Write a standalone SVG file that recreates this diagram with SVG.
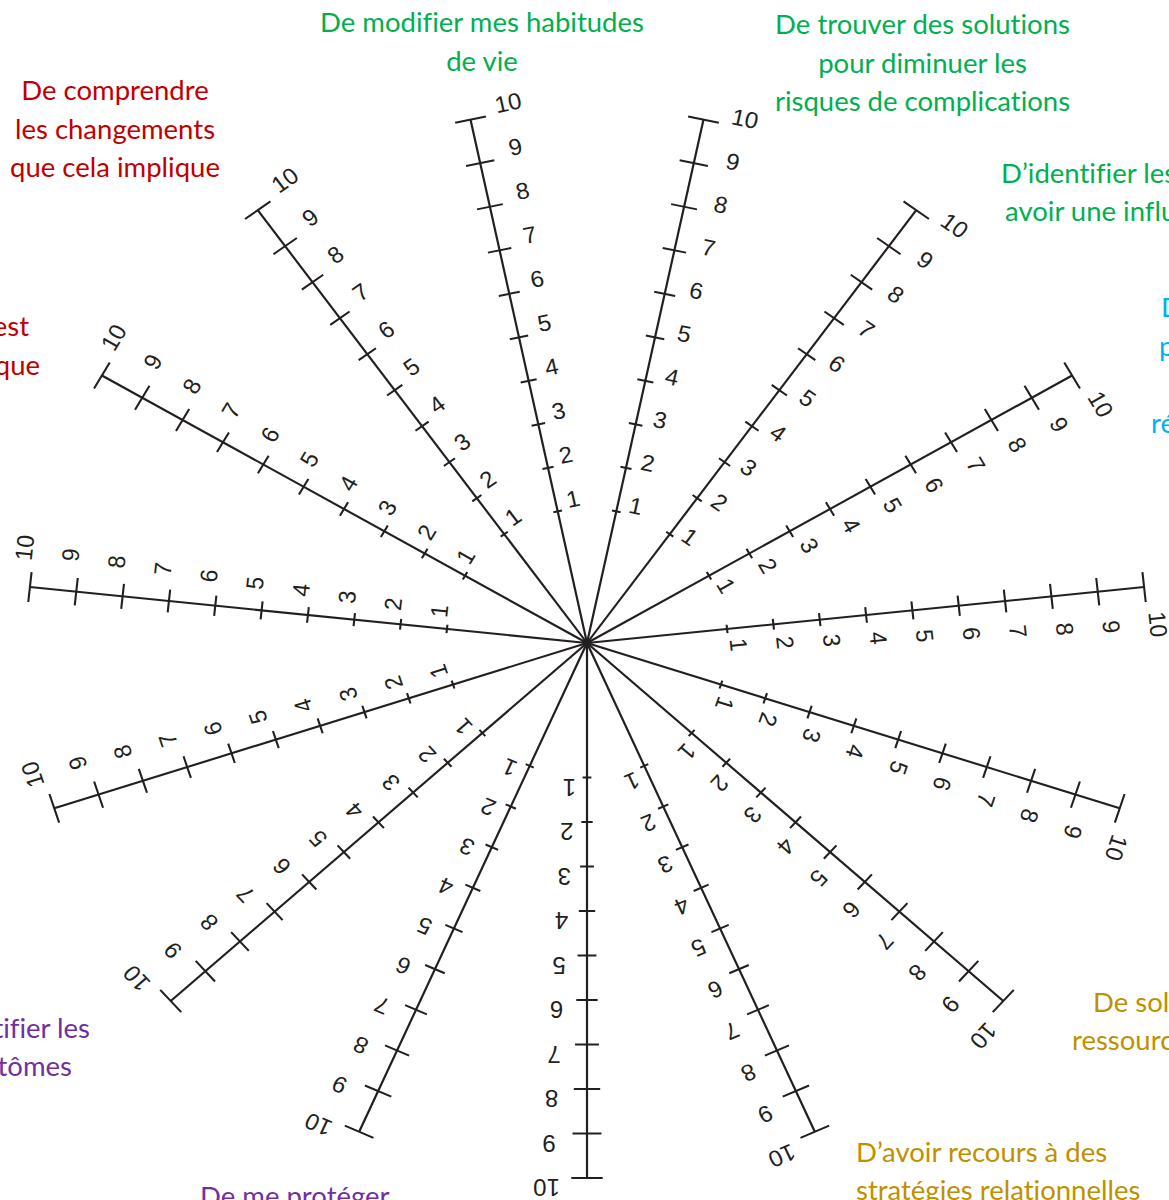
<svg xmlns="http://www.w3.org/2000/svg" xmlns:xlink="http://www.w3.org/1999/xlink" width="1169" height="1200" viewBox="0 0 1169 1200">
<style>
.ax{stroke:#231f20;stroke-width:2.1;fill:none}
.tk{stroke:#231f20;stroke-width:2;fill:none}
.n{font-family:"Liberation Sans",Arial,sans-serif;font-size:23px;fill:#231f20;text-anchor:middle;dominant-baseline:central}
.t{font-family:Lato,"Open Sans",sans-serif;font-size:27.5px;font-variant-ligatures:none}
.c{text-anchor:middle}
.e{text-anchor:end}
.green{fill:#00b050}
.red{fill:#c00000}
.blue{fill:#00b0f0}
.gold{fill:#bf9000}
.purple{fill:#7030a0}
</style>
<defs>
<g id="scale">
<line class="ax" x1="0" y1="0" x2="0" y2="-535"/>
<path class="tk" d="M-4.2,-134.5H4.2M-5.4,-179H5.4M-6.6,-223.5H6.6M-7.8,-268H7.8M-9,-312.5H9M-10.2,-357H10.2M-11.4,-401.5H11.4M-12.6,-446H12.6M-13.8,-490.5H13.8M-15,-535H15"/>
<text class="n" x="17" y="-143.5">1</text>
<text class="n" x="19.4" y="-188">2</text>
<text class="n" x="21.8" y="-232.5">3</text>
<text class="n" x="24.2" y="-277">4</text>
<text class="n" x="26.6" y="-321.5">5</text>
<text class="n" x="29" y="-366">6</text>
<text class="n" x="31.4" y="-410.5">7</text>
<text class="n" x="33.8" y="-455">8</text>
<text class="n" x="36.2" y="-499.5">9</text>
<text class="n" x="38.6" y="-544">10</text>
</g>
</defs>
<g id="wheel" transform="translate(587,643) scale(1.047,1)">
<g id="axis-01"><use xlink:href="#scale" href="#scale" transform="rotate(-12)"/></g>
<g id="axis-02"><use xlink:href="#scale" href="#scale" transform="rotate(12)"/></g>
<g id="axis-03"><use xlink:href="#scale" href="#scale" transform="rotate(36)"/></g>
<g id="axis-04"><use xlink:href="#scale" href="#scale" transform="rotate(60)"/></g>
<g id="axis-05"><use xlink:href="#scale" href="#scale" transform="rotate(84)"/></g>
<g id="axis-06"><use xlink:href="#scale" href="#scale" transform="rotate(108)"/></g>
<g id="axis-07"><use xlink:href="#scale" href="#scale" transform="rotate(132)"/></g>
<g id="axis-08"><use xlink:href="#scale" href="#scale" transform="rotate(156)"/></g>
<g id="axis-09"><use xlink:href="#scale" href="#scale" transform="rotate(180)"/></g>
<g id="axis-10"><use xlink:href="#scale" href="#scale" transform="rotate(204)"/></g>
<g id="axis-11"><use xlink:href="#scale" href="#scale" transform="rotate(228)"/></g>
<g id="axis-12"><use xlink:href="#scale" href="#scale" transform="rotate(252)"/></g>
<g id="axis-13"><use xlink:href="#scale" href="#scale" transform="rotate(276)"/></g>
<g id="axis-14"><use xlink:href="#scale" href="#scale" transform="rotate(300)"/></g>
<g id="axis-15"><use xlink:href="#scale" href="#scale" transform="rotate(324)"/></g>
<circle cx="0" cy="0" r="3" fill="#231f20"/>
</g>
<g id="label-habitudes" class="t green">
<text class="c" x="482" y="32">De modifier mes habitudes</text>
<text class="c" x="482" y="71">de vie</text>
</g>
<g id="label-solutions" class="t green">
<text class="c" x="922.5" y="34">De trouver des solutions</text>
<text class="c" x="922.5" y="73">pour diminuer les</text>
<text class="c" x="922.5" y="111">risques de complications</text>
</g>
<g id="label-identifier" class="t green">
<text x="1001" y="182.5">D’identifier les</text>
<text x="1005" y="221">avoir une influ</text>
</g>
<g id="label-blue" class="t blue">
<text x="1161" y="317">D</text>
<text x="1159" y="356">p</text>
<text x="1151" y="433">ré</text>
</g>
<g id="label-comprendre" class="t red">
<text class="c" x="115" y="100">De comprendre</text>
<text class="c" x="115" y="138.5">les changements</text>
<text class="c" x="115" y="177">que cela implique</text>
</g>
<g id="label-red-left" class="t red">
<text class="e" x="29" y="336">est</text>
<text class="e" x="40" y="375">que</text>
</g>
<g id="label-purple-left" class="t purple">
<text class="e" x="90" y="1038">tifier les</text>
<text class="e" x="72" y="1076">tômes</text>
</g>
<g id="label-proteger" class="t purple">
<text x="200" y="1206">De me protéger</text>
</g>
<g id="label-gold-right" class="t gold">
<text x="1093" y="1012">De soll</text>
<text x="1072" y="1050">ressourc</text>
</g>
<g id="label-relationnelles" class="t gold">
<text x="856" y="1161.5">D’avoir recours à des</text>
<text x="856" y="1200">stratégies relationnelles</text>
</g>
</svg>
